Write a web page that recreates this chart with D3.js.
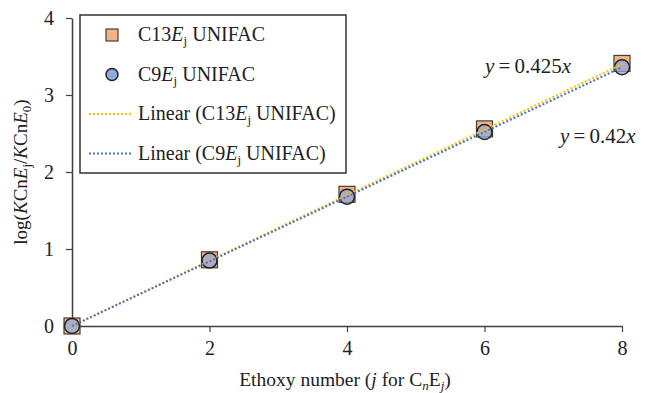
<!DOCTYPE html>
<html>
<head>
<meta charset="utf-8">
<script src="https://cdn.jsdelivr.net/npm/d3@7"></script>
<style>
  body { margin: 0; background: #fff; }
  text { font-family: "Liberation Serif", serif; fill: #222; }
</style>
</head>
<body>
<div id="chart"></div>
<script>
// data
var ethoxy = [0, 2, 4, 6, 8];
var c13 = [0, 0.86, 1.71, 2.56, 3.41];
var c9 = [0, 0.85, 1.68, 2.52, 3.36];
var slopes = {c13: 0.425, c9: 0.42};
var xTicks = [0, 2, 4, 6, 8];
var yTicks = [0, 1, 2, 3, 4];

var width = 645, height = 393,
    margin = {top: 18, right: 23, bottom: 67, left: 72};

var svg = d3.select("#chart").append("svg")
  .attr("width", width)
  .attr("height", height);

var x = d3.scaleLinear().domain([0, 8]).range([margin.left, width - margin.right]);
var y = d3.scaleLinear().domain([0, 4]).range([height - margin.bottom, margin.top]);

// axes
var xAxis = svg.append("g")
  .attr("transform", `translate(0,${y(0)})`)
  .call(d3.axisBottom(x).tickValues(xTicks).tickFormat(d3.format("d"))
    .tickSize(6).tickSizeOuter(0).tickPadding(9));
var yAxis = svg.append("g")
  .attr("transform", `translate(${x(0)},0)`)
  .call(d3.axisLeft(y).tickValues(yTicks).tickFormat(d3.format("d"))
    .tickSize(6).tickSizeOuter(0).tickPadding(12));
[xAxis, yAxis].forEach(a => {
  a.select(".domain").attr("stroke", "#404040").attr("stroke-width", 1.5);
  a.selectAll(".tick line").attr("stroke", "#404040").attr("stroke-width", 1.2);
  a.selectAll(".tick text").style("font-size", "20px").attr("fill", "#222")
    .style("font-family", "'Liberation Serif', serif");
});

// markers
var pts13 = ethoxy.map((e, i) => ({x: e, y: c13[i]}));
var pts9 = ethoxy.map((e, i) => ({x: e, y: c9[i]}));
var sq = 16;

svg.append("g").selectAll("rect")
  .data(pts13).enter().append("rect")
  .attr("x", d => x(d.x) - sq / 2)
  .attr("y", d => y(d.y) - sq / 2)
  .attr("width", sq).attr("height", sq)
  .attr("fill", "#F4B183")
  .attr("stroke", "#404040").attr("stroke-width", 1.2);

svg.append("g").selectAll("circle")
  .data(pts9).enter().append("circle")
  .attr("cx", d => x(d.x))
  .attr("cy", d => y(d.y))
  .attr("r", 7.5)
  .attr("fill", "#8FAADC").attr("fill-opacity", 0.7)
  .attr("stroke", "#222").attr("stroke-width", 1.5);

// trendlines
var line = d3.line().x(d => x(d[0])).y(d => y(d[1]));
svg.append("path")
  .attr("d", line([[0, 0], [8, 8 * slopes.c13]]))
  .attr("fill", "none").attr("stroke", "#FFC000")
  .attr("stroke-width", 2).attr("stroke-dasharray", "2,2");
svg.append("path")
  .attr("d", line([[0, 0], [8, 8 * slopes.c9]]))
  .attr("fill", "none").attr("stroke", "#4472C4")
  .attr("stroke-width", 2).attr("stroke-dasharray", "2,2");

// equations
function eq(tx, ty, k) {
  var t = svg.append("text").attr("x", tx).attr("y", ty).style("font-size", "21px");
  t.append("tspan").style("font-style", "italic").text("y");
  t.append("tspan").text("\u2009=\u2009" + k);
  t.append("tspan").style("font-style", "italic").text("x");
}
eq(485, 73, "0.425");
eq(560, 143, "0.42");

// axis titles
var xt = svg.append("text")
  .attr("x", 345).attr("y", 386)
  .attr("text-anchor", "middle").style("font-size", "19.5px");
xt.append("tspan").text("Ethoxy number (");
xt.append("tspan").style("font-style", "italic").text("j");
xt.append("tspan").text(" for C");
xt.append("tspan").style("font-style", "italic").style("font-size", "13px").attr("dy", 4).text("n");
xt.append("tspan").attr("dy", -4).text("E");
xt.append("tspan").style("font-style", "italic").style("font-size", "13px").attr("dy", 4).text("j");
xt.append("tspan").attr("dy", -4).text(")");

var yt = svg.append("text")
  .attr("transform", "translate(27,172) rotate(-90)")
  .attr("text-anchor", "middle").style("font-size", "19px");
yt.append("tspan").text("log(");
yt.append("tspan").style("font-style", "italic").text("K");
yt.append("tspan").text("Cn");
yt.append("tspan").style("font-style", "italic").text("E");
yt.append("tspan").style("font-size", "13px").attr("dy", 4).text("j");
yt.append("tspan").attr("dy", -4).text("/");
yt.append("tspan").style("font-style", "italic").text("K");
yt.append("tspan").text("Cn");
yt.append("tspan").style("font-style", "italic").text("E");
yt.append("tspan").style("font-size", "13px").attr("dy", 4).text("0");
yt.append("tspan").attr("dy", -4).text(")");

// legend
var legend = svg.append("g");
legend.append("rect")
  .attr("x", 80).attr("y", 15).attr("width", 266).attr("height", 158)
  .attr("fill", "#fff").attr("stroke", "#333").attr("stroke-width", 1.5);

var entries = [
  {type: "square", pre: "C13", label: " UNIFAC"},
  {type: "circle", pre: "C9", label: " UNIFAC"},
  {type: "line", color: "#FFC000", pre: "Linear (C13", label: " UNIFAC)"},
  {type: "line", color: "#4472C4", pre: "Linear (C9", label: " UNIFAC)"}
];
entries.forEach((e, i) => {
  var cy = 35 + i * 39.5;
  if (e.type === "square") {
    legend.append("rect").attr("x", 106).attr("y", cy - 6).attr("width", 12).attr("height", 12)
      .attr("fill", "#F4B183").attr("stroke", "#404040").attr("stroke-width", 1.2);
  } else if (e.type === "circle") {
    legend.append("circle").attr("cx", 112).attr("cy", cy).attr("r", 6)
      .attr("fill", "#8FAADC").attr("stroke", "#222").attr("stroke-width", 1.5);
  } else {
    legend.append("line").attr("x1", 89).attr("x2", 131).attr("y1", cy).attr("y2", cy)
      .attr("stroke", e.color).attr("stroke-width", 2).attr("stroke-dasharray", "2,2");
  }
  var t = legend.append("text").attr("x", 138).attr("y", cy + 6).style("font-size", "20px");
  t.append("tspan").text(e.pre);
  t.append("tspan").style("font-style", "italic").text("E");
  t.append("tspan").style("font-size", "13px").attr("dy", 4).text("j");
  t.append("tspan").attr("dy", -4).text(e.label);
});
</script>
</body>
</html>
